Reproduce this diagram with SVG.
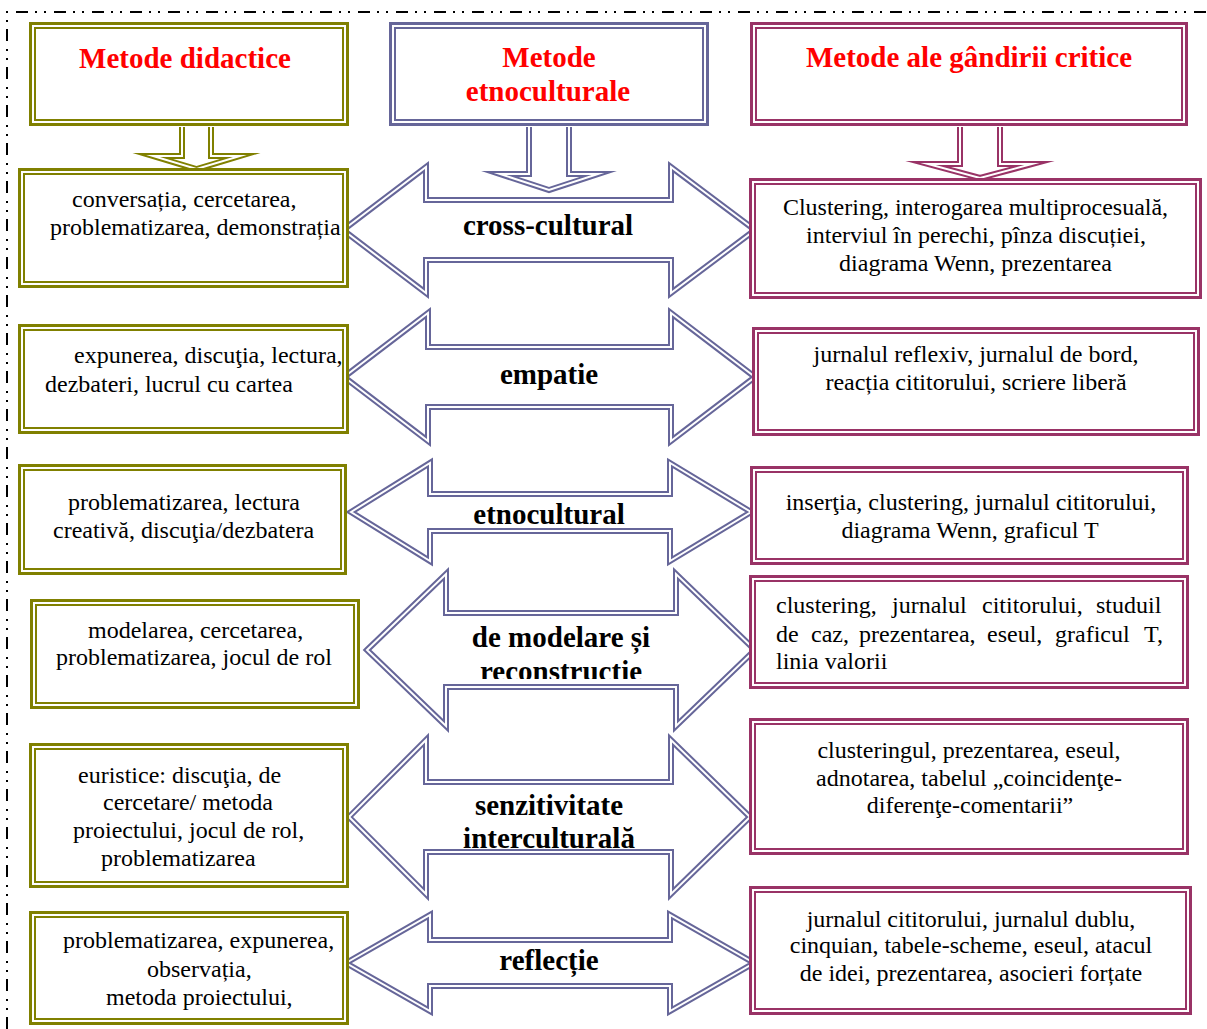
<svg xmlns="http://www.w3.org/2000/svg" xmlns:xlink="http://www.w3.org/1999/xlink" width="1207" height="1029" viewBox="0 0 1207 1029">
<style>
.bg{fill:#fff}
.frame{fill:none;stroke:#000;stroke-width:2;stroke-dasharray:12 7 2 7 2 8}
.o1{fill:#fff;stroke:#808000;stroke-width:3}
.o2{fill:none;stroke:#808000;stroke-width:2}
.b1{fill:#fff;stroke:#666699;stroke-width:3}
.b2{fill:none;stroke:#666699;stroke-width:2}
.m1{fill:#fff;stroke:#993366;stroke-width:3}
.m2{fill:none;stroke:#993366;stroke-width:2}
.aO{fill:#fff;stroke:#808000;stroke-width:6;stroke-linejoin:miter;stroke-miterlimit:12}
.aB{fill:#fff;stroke:#666699;stroke-width:6;stroke-linejoin:miter;stroke-miterlimit:12}
.aM{fill:#fff;stroke:#993366;stroke-width:6;stroke-linejoin:miter;stroke-miterlimit:12}
.aW{fill:none;stroke:#fff;stroke-width:2;stroke-linejoin:miter;stroke-miterlimit:12}
.h{font-family:"Liberation Serif","Times New Roman",serif;font-weight:bold;font-size:29px;fill:#ff0000;text-anchor:middle}
.lb{font-family:"Liberation Serif","Times New Roman",serif;font-weight:bold;font-size:29px;fill:#000;text-anchor:middle}
.t{font-family:"Liberation Serif","Times New Roman",serif;font-size:24px;fill:#000}
.c{text-anchor:middle}
</style>
<defs>
<path id="d1" d="M182,127 V156 H153 L196.5,169 L240,156 H211 V127"/>
<path id="d2" d="M529,127 V174 H500 L549,190 L598,174 H569 V127"/>
<path id="d3" d="M960,127 V164 H928 L980,178 L1032,164 H1000 V127"/>
<path id="x1" d="M343,230 L426,167 V200 H671 V167 L755,230 L671,293 V260 H426 V293 Z"/>
<path id="x2" d="M344,377 L428,313 V347 H671 V313 L755,377 L671,441 V407 H428 V441 Z"/>
<path id="x3" d="M351,512 L430,463 V494 H670 V463 L751,512 L670,561 V531 H430 V561 Z"/>
<path id="x4" d="M367,650 L446,574 V613 H676 V574 L755,650 L676,726 V687 H446 V726 Z"/>
<path id="x5" d="M349,817 L426,740 V782 H671 V740 L750,817 L671,894 V852 H426 V894 Z"/>
<path id="x6" d="M346,963 L430,915 V940 H670 V915 L754,963 L670,1011 V986 H430 V1011 Z"/>
<clipPath id="c4"><rect x="440" y="600" width="240" height="79"/></clipPath>
<clipPath id="c5"><rect x="420" y="770" width="260" height="78"/></clipPath>
</defs>
<rect class="bg" x="0" y="0" width="1207" height="1029"/>
<path class="frame" d="M7,1029 V12 H1207"/>

<g id="connectors">
<use href="#x1" class="aB"/><use href="#x1" class="aW"/>
<use href="#x2" class="aB"/><use href="#x2" class="aW"/>
<use href="#x3" class="aB"/><use href="#x3" class="aW"/>
<use href="#x4" class="aB"/><use href="#x4" class="aW"/>
<use href="#x5" class="aB"/><use href="#x5" class="aW"/>
<use href="#x6" class="aB"/><use href="#x6" class="aW"/>
</g>

<g id="h1"><rect class="o1" x="30.5" y="23.5" width="317" height="101"/><rect class="o2" x="35" y="28" width="308" height="92"/>
<text class="h" x="185" y="68">Metode didactice</text></g>
<g id="h2"><rect class="b1" x="390.5" y="23.5" width="317" height="101"/><rect class="b2" x="395" y="28" width="308" height="92"/>
<text class="h" x="549" y="67">Metode</text><text class="h" x="548" y="101">etnoculturale</text></g>
<g id="h3"><rect class="m1" x="751.5" y="23.5" width="435" height="101"/><rect class="m2" x="756" y="28" width="426" height="92"/>
<text class="h" x="969" y="67">Metode ale gândirii critice</text></g>

<g id="down-arrows">
<use href="#d1" class="aO"/><use href="#d1" class="aW"/>
<use href="#d2" class="aB"/><use href="#d2" class="aW"/>
<use href="#d3" class="aM"/><use href="#d3" class="aW"/>
</g>

<g id="l1"><rect class="o1" x="19.5" y="169.5" width="328" height="117"/><rect class="o2" x="24" y="174" width="319" height="108"/>
<text class="t" x="72" y="207">conversația, cercetarea,</text><text class="t" x="50" y="235">problematizarea, demonstrația</text></g>
<g id="l2"><rect class="o1" x="19.5" y="325.5" width="328" height="107"/><rect class="o2" x="24" y="330" width="319" height="98"/>
<text class="t" x="74" y="363">expunerea, discuţia, lectura,</text><text class="t" x="45" y="392">dezbateri, lucrul cu cartea</text></g>
<g id="l3"><rect class="o1" x="19.5" y="465.5" width="326" height="108"/><rect class="o2" x="24" y="470" width="317" height="99"/>
<text class="t" x="68" y="510">problematizarea, lectura</text><text class="t" x="53" y="538">creativă, discuţia/dezbatera</text></g>
<g id="l4"><rect class="o1" x="31.5" y="600.5" width="327" height="107"/><rect class="o2" x="36" y="605" width="318" height="98"/>
<text class="t" x="88" y="638">modelarea, cercetarea,</text><text class="t" x="56" y="665">problematizarea, jocul de rol</text></g>
<g id="l5"><rect class="o1" x="30.5" y="744.5" width="317" height="142"/><rect class="o2" x="35" y="749" width="308" height="133"/>
<text class="t" x="78" y="783">euristice: discuţia, de</text><text class="t" x="103" y="810">cercetare/ metoda</text><text class="t" x="73" y="838">proiectului, jocul de rol,</text><text class="t" x="101" y="866">problematizarea</text></g>
<g id="l6"><rect class="o1" x="30.5" y="912.5" width="317" height="111"/><rect class="o2" x="35" y="917" width="308" height="102"/>
<text class="t" x="63" y="948">problematizarea, expunerea,</text><text class="t" x="147" y="977">observația,</text><text class="t" x="106" y="1005">metoda proiectului,</text></g>

<g id="r1"><rect class="m1" x="750.5" y="179.5" width="450" height="118"/><rect class="m2" x="755" y="184" width="441" height="109"/>
<text class="t c" x="975.5" y="215">Clustering, interogarea multiprocesuală,</text><text class="t c" x="976" y="243">interviul în perechi, pînza discuției,</text><text class="t c" x="975.5" y="271">diagrama Wenn, prezentarea</text></g>
<g id="r2"><rect class="m1" x="753.5" y="328.5" width="445" height="106"/><rect class="m2" x="758" y="333" width="436" height="97"/>
<text class="t c" x="976" y="362">jurnalul reflexiv, jurnalul de bord,</text><text class="t c" x="976" y="390">reacția cititorului, scriere liberă</text></g>
<g id="r3"><rect class="m1" x="751.5" y="467.5" width="436" height="96"/><rect class="m2" x="756" y="472" width="427" height="87"/>
<text class="t c" x="971" y="510">inserţia, clustering, jurnalul cititorului,</text><text class="t c" x="970" y="538">diagrama Wenn, graficul T</text></g>
<g id="r4"><rect class="m1" x="750.5" y="576.5" width="437" height="111"/><rect class="m2" x="755" y="581" width="428" height="102"/>
<text class="t" y="613"><tspan x="776">clustering,</tspan><tspan x="892">jurnalul</tspan><tspan x="982">cititorului,</tspan><tspan x="1096">studuil</tspan></text>
<text class="t" y="642"><tspan x="776">de</tspan><tspan x="811">caz,</tspan><tspan x="859">prezentarea,</tspan><tspan x="987">eseul,</tspan><tspan x="1055">graficul</tspan><tspan x="1144">T,</tspan></text>
<text class="t" x="776" y="669">linia valorii</text></g>
<g id="r5"><rect class="m1" x="750.5" y="719.5" width="437" height="134"/><rect class="m2" x="755" y="724" width="428" height="125"/>
<text class="t c" x="969" y="758">clusteringul, prezentarea, eseul,</text><text class="t c" x="969" y="786">adnotarea, tabelul „coincidenţe-</text><text class="t c" x="970" y="813">diferenţe-comentarii”</text></g>
<g id="r6"><rect class="m1" x="750.5" y="887.5" width="440" height="126"/><rect class="m2" x="755" y="892" width="431" height="117"/>
<text class="t c" x="971" y="927">jurnalul cititorului, jurnalul dublu,</text><text class="t c" x="971" y="953">cinquian, tabele-scheme, eseul, atacul</text><text class="t c" x="971" y="981">de idei, prezentarea, asocieri forțate</text></g>

<g id="labels">
<text class="lb" x="548" y="235">cross-cultural</text>
<text class="lb" x="549" y="384">empatie</text>
<text class="lb" x="549" y="524">etnocultural</text>
<g clip-path="url(#c4)"><text class="lb" x="561" y="647">de modelare și</text><text class="lb" x="561" y="681">reconstructie</text></g>
<g clip-path="url(#c5)"><text class="lb" x="549" y="815">senzitivitate</text><text class="lb" x="549" y="848">interculturală</text></g>
<text class="lb" x="549" y="970">reflecție</text>
</g>
</svg>
